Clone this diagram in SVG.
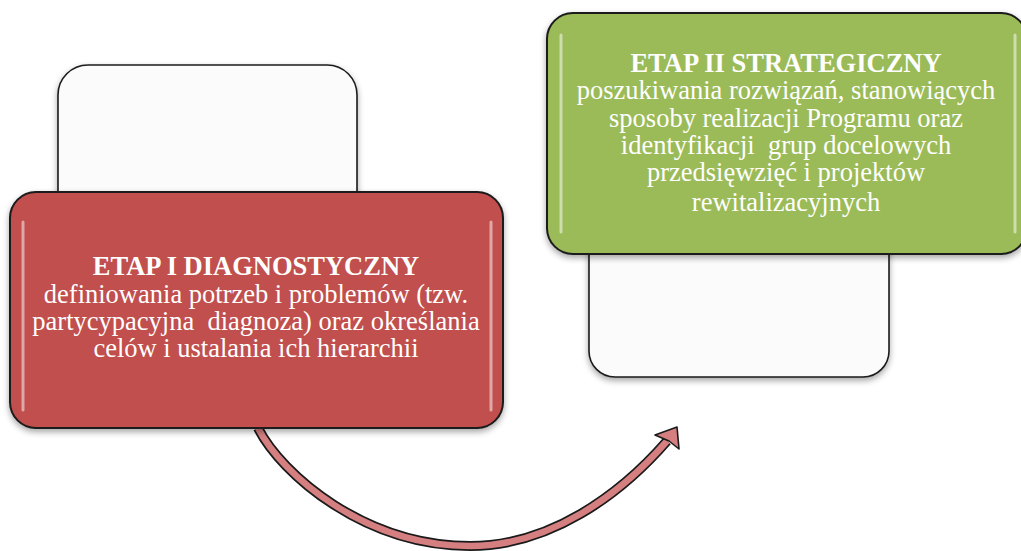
<svg xmlns="http://www.w3.org/2000/svg" width="1021" height="551" viewBox="0 0 1021 551">
<style>
.back{fill:#fbfbfb;stroke:#1a1a1a;stroke-width:1.6}
.t{font-family:"Liberation Serif","Times New Roman",serif;font-size:26.5px;fill:#ffffff;text-anchor:middle;white-space:pre}
.b{font-weight:bold}
.hl{fill:none;stroke:#ffffff;stroke-opacity:0.5;stroke-width:3;stroke-linecap:round}
</style>
<defs>
<filter id="sh" x="-10%" y="-10%" width="120%" height="130%">
<feDropShadow dx="0" dy="3" stdDeviation="3" flood-color="#000" flood-opacity="0.35"/>
</filter>
</defs>
<g id="back-left">
<rect class="back" x="58" y="65" width="299" height="200" rx="30" filter="url(#sh)"/>
</g>
<g id="back-right">
<rect class="back" x="589" y="180" width="300" height="197" rx="26" filter="url(#sh)"/>
</g>
<g id="connectors">
<path d="M258,428 C282,475 365,546 470,546 C550,546 620,495 667,441" fill="none" stroke="#1a1a1a" stroke-width="10"/>
<path d="M258,428 C282,475 365,546 470,546 C550,546 620,495 667,441" fill="none" stroke="#d67f81" stroke-width="6.5"/>
<polygon points="677,427 679,449 669,441 655,435" fill="#d67f81" stroke="#1a1a1a" stroke-width="1.6" stroke-linejoin="round"/>
</g>
<g id="etap1">
<rect x="10" y="192" width="493" height="236" rx="26" fill="#c0504d" stroke="#1a1a1a" stroke-width="2" filter="url(#sh)"/>
<path class="hl" d="M23,222 V410"/>
<path class="hl" d="M491,222 V410"/>
<text class="t"><tspan class="b" x="256" y="275">ETAP I DIAGNOSTYCZNY</tspan><tspan x="256" y="303">definiowania potrzeb i problemów (tzw.</tspan><tspan x="256" y="330">partycypacyjna  diagnoza) oraz określania</tspan><tspan x="256" y="357">celów i ustalania ich hierarchii</tspan></text>
</g>
<g id="etap2">
<rect x="547" y="13" width="480" height="241" rx="26" fill="#9bbb59" stroke="#1a1a1a" stroke-width="2" filter="url(#sh)"/>
<path class="hl" d="M561,35 V232"/>
<path class="hl" d="M1015,35 V232"/>
<text class="t"><tspan class="b" x="786" y="72">ETAP II STRATEGICZNY</tspan><tspan x="786" y="99">poszukiwania rozwiązań, stanowiących</tspan><tspan x="786" y="127">sposoby realizacji Programu oraz</tspan><tspan x="786" y="154">identyfikacji  grup docelowych</tspan><tspan x="786" y="181">przedsięwzięć i projektów</tspan><tspan x="786" y="211">rewitalizacyjnych</tspan></text>
</g>
</svg>
